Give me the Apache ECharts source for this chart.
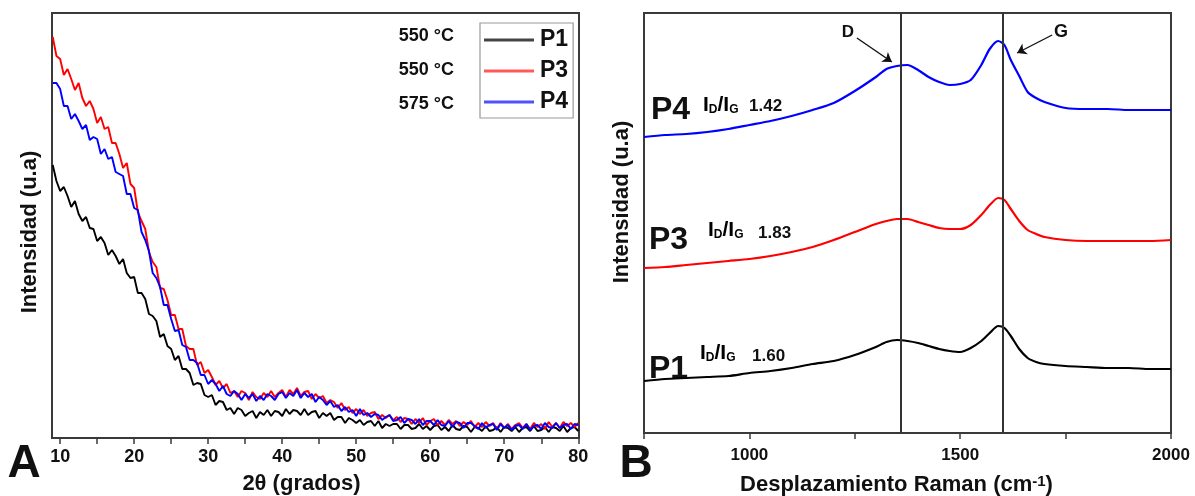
<!DOCTYPE html>
<html>
<head>
<meta charset="utf-8">
<script src="https://cdn.jsdelivr.net/npm/echarts@6/dist/echarts.min.js"></script>
<style>
html,body{margin:0;padding:0;background:#fff;}
#chart{width:1195px;height:496px;}
</style>
</head>
<body>
<div id="chart"></div>
<script>
// ---------- Panel A : XRD ----------
const xrdX = [9,9.5,10,10.5,11,11.5,12,12.5,13,13.5,14,14.5,15,15.5,16,16.5,17,17.5,18,18.5,19,19.5,20,20.5,21,21.5,22,22.5,23,23.5,24,24.5,25,25.5,26,26.5,27,27.5,28,28.5,29,29.5,30,30.5,31,31.5,32,32.5,33,33.5,34,34.5,35,35.5,36,36.5,37,37.5,38,38.5,39,39.5,40,40.5,41,41.5,42,42.5,43,43.5,44,44.5,45,45.5,46,46.5,47,47.5,48,48.5,49,49.5,50,50.5,51,51.5,52,52.5,53,53.5,54,54.5,55,55.5,56,56.5,57,57.5,58,58.5,59,59.5,60,60.5,61,61.5,62,62.5,63,63.5,64,64.5,65,65.5,66,66.5,67,67.5,68,68.5,69,69.5,70,70.5,71,71.5,72,72.5,73,73.5,74,74.5,75,75.5,76,76.5,77,77.5,78,78.5,79,79.5,80];
const xrdP1 = [273,257,247,251,242,231,237,224,217,221,210,209,197,201,195,183,188,182,174,179,165,160,161,145,145,139,124,122,117,101,104,92,89,78,82,69,69,65,53,55,54,43,41,43,33,37,36,28,30,24,30,28,22,25,27,20,26,23,28,22,27,26,22,29,24,28,27,23,29,23,26,27,20,25,22,25,18,21,21,15,20,18,15,18,13,16,17,12,17,10,14,12,14,14,9,13,13,9,10,14,9,12,8,12,13,8,11,7,13,9,8,12,11,6,11,10,7,12,7,8,11,6,11,10,7,11,6,10,11,7,12,7,8,11,6,11,10,7,12,6,10,11,7];
const xrdP3 = [401,382,379,363,369,359,348,355,340,332,337,329,315,321,309,311,295,295,284,270,275,254,250,226,217,209,186,176,171,150,149,138,123,123,109,109,92,89,89,73,76,65,68,61,53,57,50,54,45,47,41,47,45,38,46,41,39,45,41,47,41,45,48,41,48,44,50,42,46,47,39,44,40,42,35,38,36,30,35,28,31,25,29,24,28,22,25,26,19,23,20,23,18,21,16,20,19,14,19,15,20,13,17,19,13,17,13,18,14,17,12,16,13,17,11,15,11,16,12,15,9,15,10,14,9,13,15,10,14,9,15,11,14,9,16,11,15,10,16,12,15,11,15];
const xrdP4 = [355,355,349,332,332,319,324,317,309,313,298,301,299,284,289,279,281,266,264,262,244,244,230,228,206,198,187,165,160,151,133,133,119,107,108,93,91,78,78,75,63,63,54,58,54,47,52,44,42,47,44,38,44,40,44,37,42,38,44,42,38,44,46,40,45,42,48,40,45,41,44,36,41,38,33,37,31,33,27,31,26,28,22,29,23,25,21,24,23,18,21,23,17,18,21,15,19,18,14,19,13,17,17,13,18,13,12,17,11,16,15,10,15,15,12,9,15,10,13,14,8,14,10,13,8,12,13,9,14,8,12,13,9,15,11,10,15,10,13,14,9,14,13];
const xrdTicks = [10,15,20,25,30,35,40,45,50,55,60,65,70,75,80];
const xrdLabels = [10,20,30,40,50,60,70,80];
const xrdNames = ['P1','P3','P4'];
const xrdTemps = ['550 °C','550 °C','575 °C'];

// ---------- Panel B : Raman ----------
const ramanX  = [750,800,850,900,950,1000,1050,1100,1150,1200,1250,1300,1325,1350,1375,1400,1425,1450,1475,1500,1525,1550,1570,1590,1605,1620,1640,1660,1680,1700,1750,1800,1850,1900,1950,2000];
const ramanP1 = [52,54,55,56,57,60,62,65,69,72,78,86,91,93,92,90,87,84,82,81,85,92,100,107,105,97,84,75,71,69,67,66,65,65,64,64];
const ramanP3 = [165,166,168,170,172,174,177,181,186,193,201,209,212,214,214,211,208,205,204,204,208,218,228,235,233,224,212,203,199,196,193,192,192,192,192,193];
const ramanP4 = [296,298,299,301,304,308,312,317,323,330,342,356,364,367,368,363,356,351,348,349,353,368,384,392,388,373,357,341,335,331,325,324,324,323,323,323];
const ramanTicks = [750,1000,1250,1500,1750,2000];
const ramanLabels = [1000,1500,2000];
const bandLines = [1360,1600];
const ratioValues = ['1.60','1.83','1.42'];

const FONT = "'Liberation Sans', Arial, sans-serif";
const pairs = (xs, ys) => xs.map((x, i) => [x, ys[i]]);

const chart = echarts.init(document.getElementById('chart'), null, {renderer: 'canvas'});

const ratioRich = {
  b: {fontSize: 21, fontWeight: 'bold', fontFamily: FONT, color: '#111', verticalAlign: 'bottom', lineHeight: 22},
  s: {fontSize: 12, fontWeight: 'bold', fontFamily: FONT, color: '#111', verticalAlign: 'bottom', lineHeight: 8}
};
function txt(x, y, text, size, align) {
  return {type: 'text', x: x, y: y, silent: true,
    style: {text: text, fill: '#111', font: 'bold ' + size + 'px ' + FONT, textAlign: align || 'left', textVerticalAlign: 'middle'}};
}
function ratio(x, y) {
  return {type: 'text', x: x, y: y, silent: true,
    style: {text: '{b|I}{s|D}{b|/I}{s|G}', rich: ratioRich, textVerticalAlign: 'middle', textAlign: 'left'}};
}

const option = {
  animation: false,
  backgroundColor: '#fff',
  textStyle: {fontFamily: FONT},
  grid: [
    {left: 52, top: 13, width: 527, height: 425, show: true, borderColor: '#3a3a3a', borderWidth: 2,
      containLabel: false, outerBoundsMode: 'none'},
    {left: 644, top: 13, width: 527, height: 420, show: true, borderColor: '#3a3a3a', borderWidth: 2,
      containLabel: false, outerBoundsMode: 'none'}
  ],
  legend: {
    data: xrdNames.map((n, i) => ({name: n, itemStyle: {color: ['#444', '#ff5a5a', '#5050ff'][i]}})),
    orient: 'vertical', left: 480, top: 23,
    padding: [5, 5, 4, 4],
    borderColor: '#999', borderWidth: 1.2,
    icon: 'rect', itemWidth: 50, itemHeight: 3, itemGap: 7,
    textStyle: {fontSize: 23, fontWeight: 'bold', color: '#111', fontFamily: FONT, lineHeight: 24, padding: [0,0,0,1]},
    selectedMode: false
  },
  xAxis: [
    {
      type: 'value', gridIndex: 0, min: 8.9, max: 80.1,
      name: '2θ (grados)', nameLocation: 'middle', nameGap: 35,
      nameTextStyle: {fontSize: 22, fontWeight: 'bold', color: '#111', fontFamily: FONT, padding: [0, 28, 0, 0]},
      axisLine: {show: true, lineStyle: {color: '#3a3a3a', width: 2}},
      axisTick: {show: true, customValues: xrdTicks, length: 6, lineStyle: {color: '#3a3a3a', width: 1.5}},
      axisLabel: {customValues: xrdLabels, fontSize: 18, fontWeight: 'bold', color: '#111', margin: 10, fontFamily: FONT,
        formatter: v => String(v)},
      splitLine: {show: false}
    },
    {
      type: 'value', gridIndex: 1, min: 750, max: 2000,
      name: 'Desplazamiento Raman (cm{sup|-1})', nameLocation: 'middle', nameGap: 41,
      nameTextStyle: {fontSize: 22, fontWeight: 'bold', color: '#111', fontFamily: FONT, padding: [0, 22, 0, 0],
        rich: {sup: {fontSize: 15, fontWeight: 'bold', fontFamily: FONT, color: '#111', verticalAlign: 'top', lineHeight: 12}}},
      axisLine: {show: true, lineStyle: {color: '#3a3a3a', width: 2}},
      axisTick: {show: true, customValues: ramanTicks, length: 6, lineStyle: {color: '#3a3a3a', width: 1.5}},
      axisLabel: {customValues: ramanLabels, fontSize: 17, fontWeight: 'bold', color: '#111', margin: 14, fontFamily: FONT,
        formatter: v => String(v)},
      splitLine: {show: false}
    }
  ],
  yAxis: [
    {
      type: 'value', gridIndex: 0, min: 0, max: 425,
      name: 'Intensidad (u.a)', nameLocation: 'middle', nameGap: 11,
      nameTextStyle: {fontSize: 22, fontWeight: 'bold', color: '#111', fontFamily: FONT, padding: [0, 13, 0, 0]},
      axisLine: {show: false}, axisTick: {show: false}, axisLabel: {show: false}, splitLine: {show: false}
    },
    {
      type: 'value', gridIndex: 1, min: 0, max: 420,
      name: 'Intensidad (u.a)', nameLocation: 'middle', nameGap: 11,
      nameTextStyle: {fontSize: 22, fontWeight: 'bold', color: '#111', fontFamily: FONT, padding: [0, 0, 0, 42]},
      axisLine: {show: false}, axisTick: {show: false}, axisLabel: {show: false}, splitLine: {show: false}
    }
  ],
  series: [
    {name: 'P1', type: 'line', xAxisIndex: 0, yAxisIndex: 0, data: pairs(xrdX, xrdP1), showSymbol: false, symbol: 'none',
      lineStyle: {color: '#000', width: 1.9}, itemStyle: {color: '#000'}},
    {name: 'P3', type: 'line', xAxisIndex: 0, yAxisIndex: 0, data: pairs(xrdX, xrdP3), showSymbol: false, symbol: 'none',
      lineStyle: {color: '#ff0000', width: 1.9}, itemStyle: {color: '#ff0000'}},
    {name: 'P4', type: 'line', xAxisIndex: 0, yAxisIndex: 0, data: pairs(xrdX, xrdP4), showSymbol: false, symbol: 'none',
      lineStyle: {color: '#0000ff', width: 1.9}, itemStyle: {color: '#0000ff'}},
    {name: 'Raman P1', type: 'line', xAxisIndex: 1, yAxisIndex: 1, data: pairs(ramanX, ramanP1), showSymbol: false, symbol: 'none', smooth: 0.25,
      lineStyle: {color: '#000', width: 2.2}, itemStyle: {color: '#000'},
      markLine: {silent: true, symbol: ['none', 'none'], label: {show: false},
        lineStyle: {color: '#333', width: 2, type: 'solid'},
        data: bandLines.map(v => ({xAxis: v}))}},
    {name: 'Raman P3', type: 'line', xAxisIndex: 1, yAxisIndex: 1, data: pairs(ramanX, ramanP3), showSymbol: false, symbol: 'none', smooth: 0.25,
      lineStyle: {color: '#ff0000', width: 2.2}, itemStyle: {color: '#ff0000'}},
    {name: 'Raman P4', type: 'line', xAxisIndex: 1, yAxisIndex: 1, data: pairs(ramanX, ramanP4), showSymbol: false, symbol: 'none', smooth: 0.25,
      lineStyle: {color: '#0000ff', width: 2.2}, itemStyle: {color: '#0000ff'},
      markLine: {silent: true, symbol: ['none', 'arrow'], symbolSize: 9, label: {show: false},
        lineStyle: {color: '#111', width: 1.4, type: 'solid'},
        data: [
          [{coord: [1255, 395]}, {coord: [1338, 371]}],
          [{coord: [1718, 398]}, {coord: [1635, 380]}]
        ]}}
  ],
  graphic: {elements: [
    txt(24, 464, 'A', 46, 'center'),
    txt(636, 464, 'B', 46, 'center'),
    txt(454, 36, xrdTemps[0], 18, 'right'),
    txt(454, 70, xrdTemps[1], 18, 'right'),
    txt(454, 104, xrdTemps[2], 18, 'right'),
    txt(848, 32, 'D', 17, 'center'),
    txt(1061, 32, 'G', 18, 'center'),
    txt(651, 110, 'P4', 32),
    ratio(703, 105),
    txt(749, 106, ratioValues[2], 17),
    txt(649, 240, 'P3', 32),
    ratio(708, 230),
    txt(758, 233, ratioValues[1], 17),
    txt(649, 369, 'P1', 32),
    ratio(700, 353),
    txt(752, 356, ratioValues[0], 17)
  ]}
};
chart.setOption(option);
</script>
</body>
</html>
